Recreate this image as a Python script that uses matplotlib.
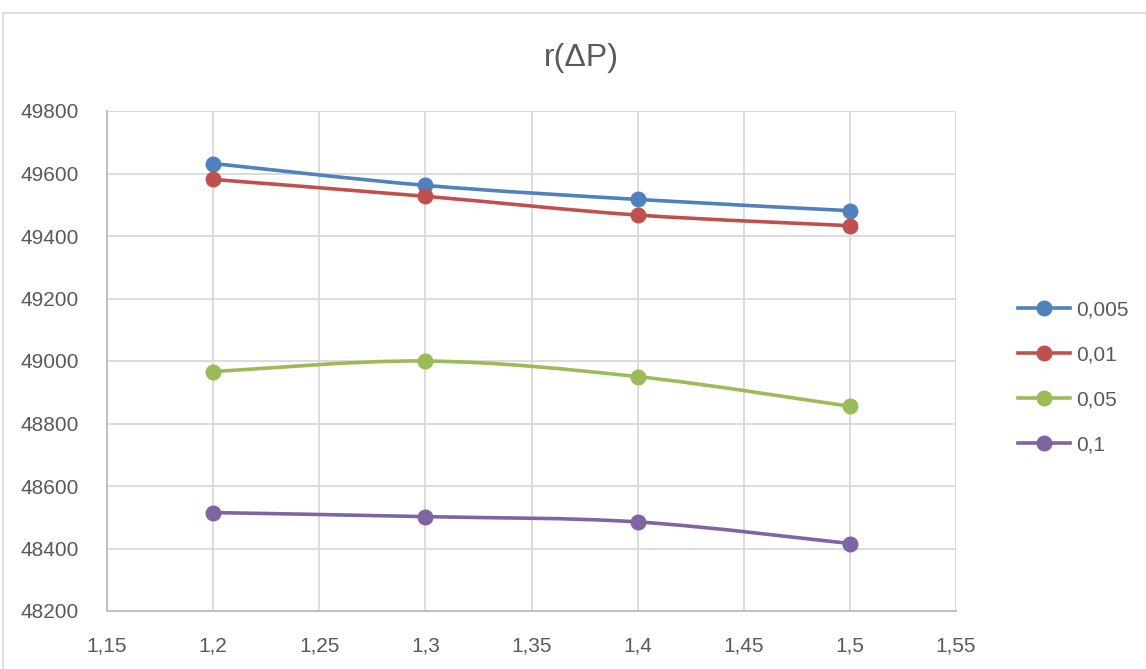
import matplotlib
matplotlib.use("Agg")
import matplotlib.pyplot as plt
from matplotlib.path import Path
from matplotlib.patches import PathPatch, Rectangle
from matplotlib.lines import Line2D
from matplotlib.ticker import MultipleLocator, FuncFormatter
import numpy as np

plt.rcParams['font.family'] = ['Liberation Sans', 'DejaVu Sans']

# Data
x_values = [1.2, 1.3, 1.4, 1.5]
series_labels = ["0,005", "0,01", "0,05", "0,1"]
r_0005 = [49632, 49562, 49517, 49481]
r_001 = [49581, 49527, 49467, 49433]
r_005 = [48966, 49000, 48950, 48855]
r_01 = [48515, 48502, 48485, 48416]
series_values = [r_0005, r_001, r_005, r_01]
colors = ["#4F81BD", "#C0504D", "#9BBB59", "#8064A2"]

title = "r(ΔP)"
text_color = "#595959"
grid_color = "#D9D9D9"


def smooth_path(xs, ys):
    """Cubic Bezier path through the points (Catmull-Rom style smoothing)."""
    pts = np.column_stack([xs, ys]).astype(float)
    n = len(pts)
    verts = [pts[0]]
    codes = [Path.MOVETO]
    for i in range(n - 1):
        p_prev = pts[i - 1] if i > 0 else pts[i]
        p0 = pts[i]
        p1 = pts[i + 1]
        p_next = pts[i + 2] if i + 2 < n else pts[i + 1]
        c1 = p0 + (p1 - p_prev) / 6.0
        c2 = p1 - (p_next - p0) / 6.0
        verts.extend([c1, c2, p1])
        codes.extend([Path.CURVE4] * 3)
    return Path(verts, codes)


W, H = 1146, 669
fig = plt.figure(figsize=(W / 100, H / 100), dpi=100)

# chart area border
fig.patches.append(Rectangle((3 / W, -0.1), 1.2, 1 - 13 / H + 0.1,
                             transform=fig.transFigure, fill=False,
                             edgecolor="#D9D9D9", linewidth=1.2, zorder=0))

left, right, top, bottom = 107 / W, 956 / W, 111 / H, 611 / H
ax = fig.add_axes([left, 1 - bottom, right - left, bottom - top])

ax.set_xlim(1.15, 1.55)
ax.set_ylim(48200, 49800)
ax.xaxis.set_major_locator(MultipleLocator(0.05))
ax.yaxis.set_major_locator(MultipleLocator(200))


def comma_fmt(v, pos):
    s = f"{v:.2f}".rstrip("0").rstrip(".")
    return s.replace(".", ",")


ax.xaxis.set_major_formatter(FuncFormatter(comma_fmt))
ax.yaxis.set_major_formatter(FuncFormatter(lambda v, p: f"{int(round(v))}"))

ax.grid(True, color=grid_color, linewidth=1.3)
ax.set_axisbelow(True)
for side in ["top", "right"]:
    ax.spines[side].set_visible(False)
for side in ["bottom", "left"]:
    ax.spines[side].set_color("#BFBFBF")
    ax.spines[side].set_linewidth(1.4)
ax.tick_params(axis="both", length=0, labelsize=15, labelcolor=text_color)
ax.tick_params(axis="y", pad=20)
ax.tick_params(axis="x", pad=18)

handles = []
for vals, col, lab in zip(series_values, colors, series_labels):
    path = smooth_path(x_values, vals)
    ax.add_patch(PathPatch(path, facecolor="none", edgecolor=col,
                           linewidth=2.6, capstyle="round", joinstyle="round",
                           zorder=3))
    ax.plot(x_values, vals, linestyle="none", marker="o", markersize=10.5,
            color=col, zorder=4)
    handles.append(Line2D([], [], color=col, linewidth=2.6, marker="o",
                          markersize=10.5, label=lab))

fig.text(581 / W, 1 - 58 / H, title, ha="center", va="center",
         fontsize=23, color=text_color)

fig.legend(handles=handles, loc="center left",
           bbox_to_anchor=(1018 / W, 1 - 377.5 / H), frameon=False,
           fontsize=15, labelcolor=text_color, handlelength=2.5,
           handletextpad=0.3, labelspacing=1.25, borderpad=0,
           borderaxespad=0, numpoints=1)

fig.savefig("out.png", dpi=100)
